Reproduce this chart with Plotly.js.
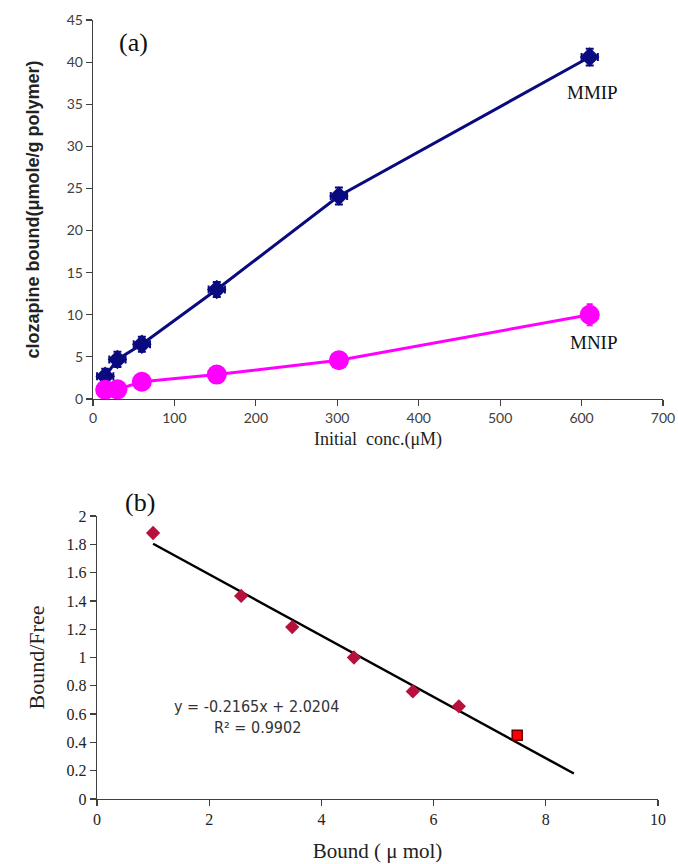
<!DOCTYPE html>
<html>
<head>
<meta charset="utf-8">
<script src="https://cdn.plot.ly/plotly-3.0.1.min.js"></script>
<style>
  html, body { margin: 0; padding: 0; background: #ffffff; }
  #chart { width: 678px; height: 864px; }
</style>
</head>
<body>
<div id="chart"></div>
<script>
// (a) binding isotherm: initial concentration vs amount bound
const initialConc = [15, 30, 60, 152, 302, 610];
const mmipBound = [2.7, 4.7, 6.5, 13.0, 24.1, 40.6];
const mmipErrY = [0.9, 0.9, 0.9, 0.9, 1.0, 1.0];
const mmipErrX = [10, 10, 10, 10, 10, 10];
const mnipBound = [1.1, 1.15, 2.05, 2.9, 4.6, 10.0];
const mnipErrY = [0.3, 0.3, 0.5, 0.6, 0.8, 1.25];

// (b) Scatchard plot: bound vs bound/free
const scatBound = [1.0, 2.57, 3.48, 4.58, 5.63, 6.45];
const scatRatio = [1.88, 1.435, 1.215, 1.0, 0.76, 0.655];
const lastBound = [7.49];
const lastRatio = [0.45];

// linear fit reported on the plot
const fitSlope = -0.2165;
const fitIntercept = 2.0204;
const fitRange = [1, 8.5];
const fitY = fitRange.map(x => fitSlope * x + fitIntercept);

const topXTicks = [0, 100, 200, 300, 400, 500, 600, 700];
const topYTicks = [0, 5, 10, 15, 20, 25, 30, 35, 40, 45];
const botXTicks = [0, 2, 4, 6, 8, 10];
const botYTicks = [0, 0.2, 0.4, 0.6, 0.8, 1, 1.2, 1.4, 1.6, 1.8, 2];

const W = 678, H = 864;
const px = v => v / W;
const py = v => (H - v) / H;

const serif = 'Liberation Serif, Times New Roman, serif';
const sans = 'Lato, Liberation Sans, sans-serif';
const narrow = 'Liberation Sans Narrow, Arial Narrow, DejaVu Sans Condensed, sans-serif';

const traces = [
  {
    x: initialConc, y: mmipBound, xaxis: 'x', yaxis: 'y',
    type: 'scatter', mode: 'lines+markers', name: 'MMIP',
    line: {color: '#0a0a80', width: 3},
    marker: {symbol: 'diamond', size: 15, color: '#0a0a80'},
    error_y: {type: 'data', array: mmipErrY, visible: true, color: '#0a0a80', thickness: 2, width: 4},
    error_x: {type: 'data', array: mmipErrX, visible: true, color: '#0a0a80', thickness: 2, width: 4}
  },
  {
    x: initialConc, y: mnipBound, xaxis: 'x', yaxis: 'y',
    type: 'scatter', mode: 'lines+markers', name: 'MNIP',
    line: {color: '#ff00ff', width: 3},
    marker: {symbol: 'circle', size: 20, color: '#ff00ff'},
    error_y: {type: 'data', array: mnipErrY, visible: true, color: '#ff00ff', thickness: 2, width: 3}
  },
  {
    x: fitRange, y: fitY, xaxis: 'x2', yaxis: 'y2',
    type: 'scatter', mode: 'lines', name: 'fit',
    line: {color: '#000000', width: 2.5}
  },
  {
    x: scatBound, y: scatRatio, xaxis: 'x2', yaxis: 'y2',
    type: 'scatter', mode: 'markers', name: 'Bound/Free',
    marker: {symbol: 'diamond', size: 11, color: '#b8103c'}
  },
  {
    x: lastBound, y: lastRatio, xaxis: 'x2', yaxis: 'y2',
    type: 'scatter', mode: 'markers', name: 'last',
    marker: {symbol: 'square', size: 10, color: '#ff0000', line: {color: '#600000', width: 1.5}}
  }
];

const axisCommon = {
  showgrid: false, zeroline: false, showline: true,
  linecolor: '#404040', linewidth: 1.2,
  ticks: 'outside', ticklen: 6, tickcolor: '#404040', tickwidth: 1.2,
  tickmode: 'array', fixedrange: true
};

const layout = {
  width: W, height: H,
  margin: {l: 0, r: 0, t: 0, b: 0},
  paper_bgcolor: '#ffffff', plot_bgcolor: '#ffffff',
  showlegend: false,
  xaxis: Object.assign({}, axisCommon, {
    domain: [px(93), px(663)], range: [0, 700], anchor: 'y',
    tickvals: topXTicks,
    tickfont: {family: sans, size: 14, color: '#404040'},
    title: {text: 'Initial  conc.(μM)', font: {family: serif, size: 18, color: '#222222'}, standoff: 7}
  }),
  yaxis: Object.assign({}, axisCommon, {
    domain: [py(399), py(20)], range: [0, 45], anchor: 'x',
    tickvals: topYTicks,
    tickfont: {family: sans, size: 14, color: '#404040'},
    title: {text: 'clozapine bound(μmole/g polymer)', font: {family: 'Liberation Sans, Arial, sans-serif', size: 18, color: '#222222', weight: 'bold'}, standoff: 22}
  }),
  xaxis2: Object.assign({}, axisCommon, {
    domain: [px(97), px(658)], range: [0, 10], anchor: 'y2',
    tickvals: botXTicks,
    tickfont: {family: serif, size: 16, color: '#222222'},
    title: {text: 'Bound ( μ mol)', font: {family: serif, size: 21, color: '#222222'}, standoff: 15}
  }),
  yaxis2: Object.assign({}, axisCommon, {
    domain: [py(799), py(516)], range: [0, 2], anchor: 'x2',
    tickvals: botYTicks,
    tickfont: {family: serif, size: 16, color: '#222222'},
    title: {text: 'Bound/Free', font: {family: serif, size: 22, color: '#222222'}, standoff: 15}
  }),
  annotations: [
    {text: '(a)', xref: 'paper', yref: 'paper', x: px(133), y: py(43), showarrow: false,
     font: {family: serif, size: 26, color: '#111111'}, xanchor: 'center', yanchor: 'middle'},
    {text: 'MMIP', xref: 'paper', yref: 'paper', x: px(592), y: py(92), showarrow: false,
     font: {family: serif, size: 19, color: '#111111'}, xanchor: 'center', yanchor: 'middle'},
    {text: 'MNIP', xref: 'paper', yref: 'paper', x: px(594), y: py(343), showarrow: false,
     font: {family: serif, size: 19, color: '#111111'}, xanchor: 'center', yanchor: 'middle'},
    {text: '(b)', xref: 'paper', yref: 'paper', x: px(140), y: py(502), showarrow: false,
     font: {family: serif, size: 26, color: '#111111'}, xanchor: 'center', yanchor: 'middle'},
    {text: 'y = -0.2165x + 2.0204', xref: 'paper', yref: 'paper', x: px(256), y: py(706), showarrow: false,
     font: {family: narrow, size: 16, color: '#333333'}, xanchor: 'center', yanchor: 'middle'},
    {text: 'R² = 0.9902', xref: 'paper', yref: 'paper', x: px(257), y: py(727), showarrow: false,
     font: {family: narrow, size: 16, color: '#333333'}, xanchor: 'center', yanchor: 'middle'}
  ]
};

Plotly.newPlot('chart', traces, layout, {displayModeBar: false, staticPlot: true});
</script>
</body>
</html>
